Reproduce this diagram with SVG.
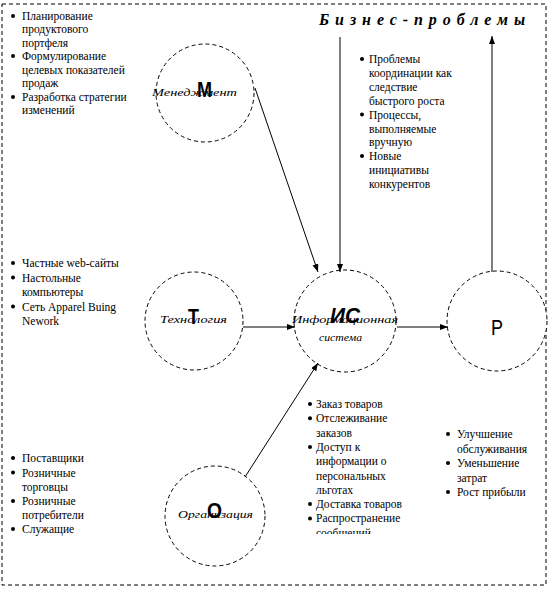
<svg xmlns="http://www.w3.org/2000/svg" width="549" height="592" viewBox="0 0 549 592">
<style>
.bg{fill:#fff}
.frame{fill:none;stroke:#000;stroke-width:1;stroke-dasharray:4 3}
.node{fill:#fff;stroke:#000;stroke-width:1;stroke-dasharray:4 3}
.lbl{font-family:"Liberation Serif",serif;font-style:italic;font-size:11px;fill:#000}
.big{font-family:"Liberation Sans",Arial,sans-serif;font-size:22px;fill:#000}
.li{font-family:"Liberation Serif",serif;font-size:11.5px;fill:#000}
.title{font-family:"Liberation Serif",serif;font-style:italic;font-weight:bold;font-size:16px;fill:#000}
.conn line{stroke:#000;stroke-width:1;fill:none}
.dot{fill:#000}
</style>
<defs>
<marker id="arr" markerWidth="9" markerHeight="7" refX="8" refY="3" orient="auto" markerUnits="userSpaceOnUse">
<path d="M0,0 L8,3 L0,6 z" fill="#000"/>
</marker>
<clipPath id="clipIS"><rect x="300" y="395" width="120" height="139"/></clipPath>
</defs>
<rect class="bg" x="0" y="0" width="549" height="592"/>
<rect class="frame" x="2" y="4" width="544" height="581"/>

<g id="title">
<text class="title" x="319" y="25" textLength="206" lengthAdjust="spacing">Бизнес-проблемы</text>
</g>

<g id="node-management">
<circle class="node" cx="205" cy="93" r="49"/>
<text class="lbl" x="152" y="96" textLength="85" lengthAdjust="spacingAndGlyphs">Менеджмент</text>
<text class="big" x="197" y="97" font-weight="bold" textLength="15" lengthAdjust="spacingAndGlyphs">М</text>
</g>

<g id="node-technology">
<circle class="node" cx="194" cy="321" r="49"/>
<text class="lbl" x="160" y="323" textLength="67" lengthAdjust="spacingAndGlyphs">Технология</text>
<text class="big" x="188" y="324" font-weight="bold" textLength="11" lengthAdjust="spacingAndGlyphs">Т</text>
</g>

<g id="node-is">
<circle class="node" cx="345" cy="321" r="51"/>
<text class="lbl" x="292" y="323" textLength="106" lengthAdjust="spacingAndGlyphs">Информационная</text>
<text class="lbl" x="319" y="341" textLength="43" lengthAdjust="spacingAndGlyphs">система</text>
<text class="big" x="330" y="323" font-weight="bold" font-style="italic" textLength="30" lengthAdjust="spacingAndGlyphs">ИС</text>
</g>

<g id="node-result">
<circle class="node" cx="497" cy="321" r="50"/>
<text class="big" x="491" y="335" textLength="12" lengthAdjust="spacingAndGlyphs">Р</text>
</g>

<g id="node-organization">
<circle class="node" cx="215" cy="516" r="50"/>
<text class="lbl" x="178" y="518" textLength="75" lengthAdjust="spacingAndGlyphs">Организация</text>
<text class="big" x="207" y="518" font-weight="bold" textLength="15" lengthAdjust="spacingAndGlyphs">О</text>
</g>

<g id="connectors" class="conn">
<line x1="255" y1="88" x2="318" y2="272" marker-end="url(#arr)"/>
<line x1="243" y1="327" x2="295" y2="327" marker-end="url(#arr)"/>
<line x1="245" y1="477" x2="318" y2="363" marker-end="url(#arr)"/>
<line x1="340" y1="37" x2="340" y2="272" marker-end="url(#arr)"/>
<line x1="397" y1="327" x2="448" y2="327" marker-end="url(#arr)"/>
<line x1="492" y1="272" x2="492" y2="36" marker-end="url(#arr)"/>
</g>

<g id="list-management">
<circle class="dot" cx="13" cy="16" r="2"/>
<circle class="dot" cx="13" cy="56" r="2"/>
<circle class="dot" cx="13" cy="97" r="2"/>
<text class="li" x="22" y="19.5">Планирование</text>
<text class="li" x="22" y="33">продуктового</text>
<text class="li" x="22" y="46.5">портфеля</text>
<text class="li" x="22" y="60">Формулирование</text>
<text class="li" x="22" y="73.5">целевых показателей</text>
<text class="li" x="22" y="87">продаж</text>
<text class="li" x="22" y="100.5">Разработка стратегии</text>
<text class="li" x="22" y="114">изменений</text>
</g>

<g id="list-problems">
<circle class="dot" cx="362" cy="59" r="2"/>
<circle class="dot" cx="362" cy="114.5" r="2"/>
<circle class="dot" cx="362" cy="156" r="2"/>
<text class="li" x="369" y="63">Проблемы</text>
<text class="li" x="369" y="76.9">координации как</text>
<text class="li" x="369" y="90.8">следствие</text>
<text class="li" x="369" y="104.7">быстрого роста</text>
<text class="li" x="369" y="118.6">Процессы,</text>
<text class="li" x="369" y="132.5">выполняемые</text>
<text class="li" x="369" y="146.4">вручную</text>
<text class="li" x="369" y="160.3">Новые</text>
<text class="li" x="369" y="174.2">инициативы</text>
<text class="li" x="369" y="188.1">конкурентов</text>
</g>

<g id="list-technology">
<circle class="dot" cx="13" cy="263" r="2"/>
<circle class="dot" cx="13" cy="277.5" r="2"/>
<circle class="dot" cx="13" cy="306.5" r="2"/>
<text class="li" x="22" y="267">Частные web-сайты</text>
<text class="li" x="22" y="281.5">Настольные</text>
<text class="li" x="22" y="296">компьютеры</text>
<text class="li" x="22" y="310.5">Сеть Apparel Buing</text>
<text class="li" x="22" y="325">Nework</text>
</g>

<g id="list-is">
<g clip-path="url(#clipIS)">
<circle class="dot" cx="310" cy="404" r="2"/>
<circle class="dot" cx="310" cy="418.3" r="2"/>
<circle class="dot" cx="310" cy="446.9" r="2"/>
<circle class="dot" cx="310" cy="504.1" r="2"/>
<circle class="dot" cx="310" cy="518.4" r="2"/>
<text class="li" x="316" y="408">Заказ товаров</text>
<text class="li" x="316" y="422.3">Отслеживание</text>
<text class="li" x="316" y="436.6">заказов</text>
<text class="li" x="316" y="450.9">Доступ к</text>
<text class="li" x="316" y="465.2">информации о</text>
<text class="li" x="316" y="479.5">персональных</text>
<text class="li" x="316" y="493.8">льготах</text>
<text class="li" x="316" y="508.1">Доставка товаров</text>
<text class="li" x="316" y="522.4">Распространение</text>
<text class="li" x="316" y="536.7">сообщений</text>
</g>
</g>

<g id="list-result">
<circle class="dot" cx="448" cy="434" r="2"/>
<circle class="dot" cx="448" cy="463" r="2"/>
<circle class="dot" cx="448" cy="492" r="2"/>
<text class="li" x="457" y="438">Улучшение</text>
<text class="li" x="457" y="452.5">обслуживания</text>
<text class="li" x="457" y="467">Уменьшение</text>
<text class="li" x="457" y="481.5">затрат</text>
<text class="li" x="457" y="496">Рост прибыли</text>
</g>

<g id="list-organization">
<circle class="dot" cx="13" cy="458" r="2"/>
<circle class="dot" cx="13" cy="472.5" r="2"/>
<circle class="dot" cx="13" cy="501" r="2"/>
<circle class="dot" cx="13" cy="529" r="2"/>
<text class="li" x="22" y="462">Поставщики</text>
<text class="li" x="22" y="476.5">Розничные</text>
<text class="li" x="22" y="490.5">торговцы</text>
<text class="li" x="22" y="505">Розничные</text>
<text class="li" x="22" y="519">потребители</text>
<text class="li" x="22" y="533">Служащие</text>
</g>
</svg>
